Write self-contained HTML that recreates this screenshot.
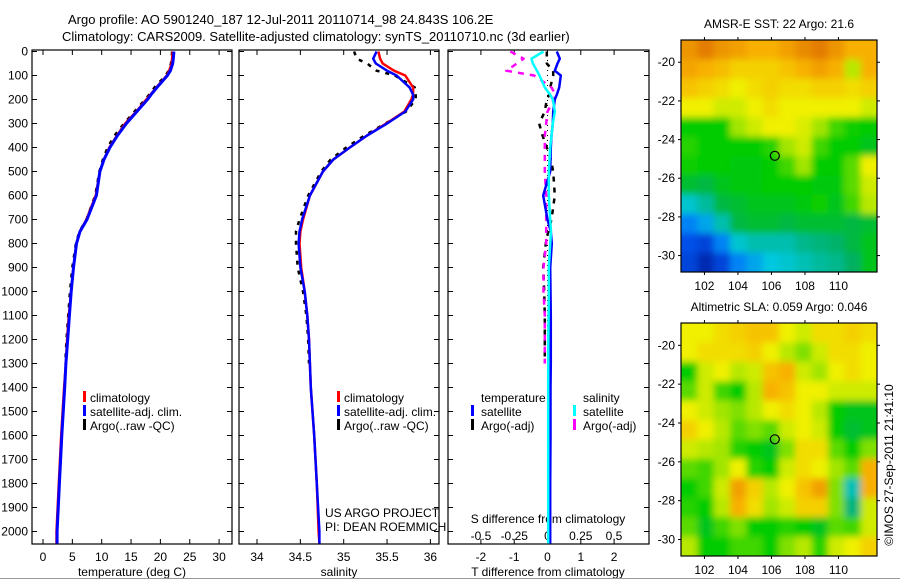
<!DOCTYPE html>
<html><head><meta charset="utf-8">
<style>
html,body{margin:0;padding:0;background:#fff;}
svg{display:block;font-family:"Liberation Sans",sans-serif;}
text{font-size:12px;fill:#000;}
</style></head>
<body>
<svg id="fig" width="900" height="580" viewBox="0 0 900 580" xmlns="http://www.w3.org/2000/svg">
<defs>
<clipPath id="clipMap1"><rect x="681" y="40" width="196" height="232"/></clipPath>
<clipPath id="clipMap2"><rect x="681" y="323" width="196" height="233"/></clipPath>
<filter id="blur" x="-5%" y="-5%" width="110%" height="110%"><feGaussianBlur stdDeviation="3.5"/></filter>
</defs>
<text x="68" y="24" style="font-size:13px">Argo profile: AO 5901240_187 12-Jul-2011 20110714_98 24.843S 106.2E</text>
<text x="62" y="41" style="font-size:13px">Climatology: CARS2009. Satellite-adjusted climatology: synTS_20110710.nc (3d earlier)</text>
<g id="g"></g>
<line x1="0" y1="578.5" x2="900" y2="578.5" stroke="#999" stroke-width="1"/>
</svg>
<script>
// ---------- data ----------
const depths = [0,30,50,80,100,150,180,200,250,300,350,400,450,500,600,700,750,800,900,1000,1100,1200,1300,1400,1600,1800,2000,2050];
const tempClim = [22.1,22.0,21.9,21.5,21.1,19.3,18.3,17.6,15.9,14.0,12.6,11.3,10.4,9.7,9.0,7.4,6.3,5.7,5.2,4.8,4.4,4.1,3.9,3.6,3.1,2.7,2.3,2.3];
const tempSat  = [22.3,22.2,22.1,21.7,21.2,19.4,18.4,17.8,16.0,14.2,12.7,11.4,10.4,9.7,9.1,7.5,6.3,5.7,5.2,4.8,4.5,4.2,3.9,3.7,3.2,2.8,2.4,2.4];
const tempArgo = [22.0,21.9,21.8,21.4,20.9,19.0,18.1,17.4,15.6,13.8,12.2,11.0,10.2,9.6,8.9,7.4,6.2,5.6,5.0,4.6,4.3,4.0,3.8];
const salClim  = [35.40,35.42,35.45,35.58,35.71,35.80,35.80,35.78,35.70,35.49,35.27,35.07,34.88,34.76,34.61,34.53,34.50,34.49,34.51,34.55,34.58,34.60,34.61,34.62,34.66,34.69,34.71,34.72];
const salSat   = [35.38,35.34,35.37,35.50,35.61,35.76,35.80,35.80,35.71,35.50,35.27,35.07,34.88,34.76,34.61,34.52,34.49,34.48,34.50,34.55,34.58,34.60,34.61,34.62,34.66,34.69,34.72,34.72];
const salArgo  = [35.12,35.15,35.27,35.38,35.59,35.82,35.83,35.83,35.72,35.48,35.24,35.03,34.85,34.74,34.59,34.49,34.45,34.45,34.47,34.53,34.57,34.59,34.60];
const tdiffSat  = [0.28,0.37,0.30,0.22,0.40,0.35,0.28,0.22,0.17,0.16,0.12,0.10,0.09,0.08,-0.13,0.0,0.10,0.13,0.08,0.09,0.10,0.10,0.10,0.09,0.09,0.08,0.08,0.08];
const tdiffArgo = [-0.02,-0.02,-0.02,0.17,0.17,0.08,0.05,-0.02,-0.08,-0.25,-0.15,-0.02,0.10,0.17,0.22,0.12,0.02,-0.05,-0.13,-0.10,-0.08,-0.08,-0.08];
const sdiffSat  = [-0.03,-0.12,-0.11,-0.08,-0.06,-0.02,0.02,0.04,0.056,0.04,0.03,0.02,0.015,0.01,0.01,0.02,0.026,0.02,0.01,0.01,0.008,0.006,0.005,0.005,0.005,0.005,0.005,0.005];
const sdiffArgo = [-0.28,-0.18,-0.23,-0.31,-0.10,0.03,0.06,0.05,0.0,-0.01,-0.02,-0.02,-0.02,-0.02,-0.01,-0.01,-0.01,-0.01,-0.03,-0.03,-0.02,-0.02,-0.02];
const depthTicks = [0,100,200,300,400,500,600,700,800,900,1000,1100,1200,1300,1400,1500,1600,1700,1800,1900,2000];
const tempTicks = [0,5,10,15,20,25,30];
const salTicks = [34,34.5,35,35.5,36];
const salTickLabels = ['34','34.5','35','35.5','36'];
const tdTicks = [-2,-1,0,1,2];
const sdTicks = [-0.5,-0.25,0,0.25,0.5];
const sdTickLabels = ['-0.5','-0.25','0','0.25','0.5'];
const lonTicks = [102,104,106,108,110];
const latTicks = [-20,-22,-24,-26,-28,-30];
const argoLon = 106.2, argoLat = -24.84;
const sstGrid = [
[0.90,0.95,0.90,0.88,0.85,0.85,0.88,0.92,0.95,0.90,0.85,0.85],
[0.87,0.85,0.83,0.80,0.80,0.80,0.82,0.85,0.88,0.85,0.70,0.85],
[0.82,0.80,0.78,0.75,0.78,0.80,0.78,0.78,0.80,0.80,0.78,0.80],
[0.75,0.75,0.72,0.72,0.75,0.78,0.75,0.75,0.75,0.75,0.75,0.72],
[0.55,0.55,0.55,0.68,0.72,0.75,0.75,0.73,0.68,0.60,0.56,0.55],
[0.58,0.55,0.55,0.55,0.55,0.58,0.68,0.72,0.60,0.55,0.55,0.52],
[0.56,0.55,0.55,0.54,0.54,0.55,0.60,0.68,0.55,0.55,0.62,0.75],
[0.50,0.48,0.52,0.54,0.54,0.55,0.55,0.55,0.54,0.54,0.62,0.72],
[0.32,0.38,0.48,0.50,0.52,0.52,0.52,0.54,0.56,0.52,0.60,0.70],
[0.20,0.25,0.36,0.48,0.50,0.50,0.48,0.50,0.50,0.50,0.48,0.50],
[0.12,0.10,0.20,0.32,0.36,0.36,0.36,0.40,0.42,0.44,0.48,0.52],
[0.10,0.05,0.10,0.20,0.25,0.30,0.32,0.35,0.38,0.40,0.45,0.52]];
const slaGrid = [
[0.75,0.75,0.78,0.80,0.82,0.82,0.75,0.72,0.78,0.78,0.80,0.78],
[0.75,0.78,0.78,0.78,0.80,0.75,0.70,0.65,0.72,0.78,0.78,0.75],
[0.55,0.72,0.75,0.70,0.72,0.82,0.85,0.72,0.68,0.75,0.78,0.75],
[0.62,0.72,0.60,0.55,0.70,0.85,0.82,0.75,0.75,0.72,0.72,0.72],
[0.75,0.72,0.68,0.65,0.70,0.75,0.78,0.75,0.70,0.55,0.52,0.52],
[0.80,0.75,0.70,0.62,0.65,0.62,0.72,0.75,0.72,0.55,0.50,0.52],
[0.72,0.70,0.68,0.58,0.55,0.52,0.65,0.78,0.78,0.62,0.55,0.65],
[0.62,0.60,0.68,0.75,0.58,0.55,0.72,0.78,0.75,0.68,0.62,0.85],
[0.55,0.60,0.72,0.88,0.80,0.70,0.75,0.82,0.88,0.65,0.35,0.85],
[0.58,0.55,0.70,0.85,0.78,0.68,0.72,0.80,0.80,0.65,0.42,0.72],
[0.62,0.52,0.60,0.65,0.55,0.55,0.58,0.55,0.52,0.62,0.60,0.72],
[0.70,0.55,0.55,0.60,0.60,0.55,0.65,0.70,0.58,0.72,0.75,0.80]];

// ---------- helpers ----------
const NS='http://www.w3.org/2000/svg';
const G=document.getElementById('g');
function mk(tag, attrs, parent){const e=document.createElementNS(NS,tag);for(const k in attrs)e.setAttribute(k,attrs[k]);(parent||G).appendChild(e);return e;}
const top0=50, bot0=544;
const yD = d => 51.5 + d*0.24;
const P1={l:32,r:232}, P2={l:239,r:439}, P3={l:448,r:649};
const xT = t => 43 + t*5.87;
const xS = s => 257 + (s-34)*86.7;
const xTD = v => 547.5 + v*33.3;
const xSD = v => 547.5 + v*133;

function frame(p,name){
  const r=mk('rect',{x:p.l,y:top0,width:p.r-p.l,height:bot0-top0,fill:'none',stroke:'#000','stroke-width':1.2});
  
  
  depthTicks.forEach(d=>{
    const t1=mk('line',{x1:p.l,x2:p.l+5,y1:yD(d),y2:yD(d),stroke:'#000'});
    
    
    const t2=mk('line',{x1:p.r-5,x2:p.r,y1:yD(d),y2:yD(d),stroke:'#000'});
    
    
  });
}
function xticks(vals,labels,fx,ly,name){
  vals.forEach((v,i)=>{
    const a=mk('line',{x1:fx(v),x2:fx(v),y1:top0,y2:top0+5,stroke:'#000'});
    
    
    const b=mk('line',{x1:fx(v),x2:fx(v),y1:bot0-5,y2:bot0,stroke:'#000'});
    
    
    if(ly){const t=mk('text',{x:fx(v),y:ly,'text-anchor':'middle'});t.textContent=labels[i];
    
    }
  });
}
function line(xs,ds,fx,color,w,dash,name){
  const pts=xs.map((v,i)=>fx(v).toFixed(1)+','+yD(ds[i]).toFixed(1)).join(' ');
  const a={points:pts,fill:'none',stroke:color,'stroke-width':w,'stroke-linejoin':'round'};
  if(dash)a['stroke-dasharray']=dash;
  const e=mk('polyline',a);
  
  
}
function txt(x,y,s,name,extra){const t=mk('text',Object.assign({x:x,y:y},extra||{}));t.textContent=s;
  
  return t;}
function legMark(x,y,color,name){const r=mk('rect',{x:x,y:y-10,width:3,height:11,fill:color});
  
  }

depthTicks.forEach(d=>txt(28,yD(d)+4,String(d),'depth-tick-label',{'text-anchor':'end'}));

// panel 1
frame(P1,'temperature-panel');
xticks(tempTicks,tempTicks.map(String),xT,561,'temperature-axis');
txt(132,576,'temperature (deg C)','temperature-axis-title',{'text-anchor':'middle'});
line(tempArgo,depths.slice(0,tempArgo.length),xT,'#000',2.5,'4,6','temp-argo-line');
line(tempClim,depths,xT,'#ff0000',2.5,null,'temp-climatology-line');
line(tempSat,depths,xT,'#0000ff',3,null,'temp-satellite-line');
legMark(83,401,'#ff0000','legend-climatology-mark');txt(90,402,'climatology','legend-climatology');
legMark(83,415,'#0000ff','legend-satellite-mark');txt(90,416,'satellite-adj. clim.','legend-satellite');
legMark(83,429,'#000','legend-argo-mark');txt(90,430,'Argo(..raw -QC)','legend-argo');

// panel 2
frame(P2,'salinity-panel');
xticks(salTicks,salTickLabels,xS,561,'salinity-axis');
txt(339,576,'salinity','salinity-axis-title',{'text-anchor':'middle'});
line(salArgo,depths.slice(0,salArgo.length),xS,'#000',2.5,'4,6','sal-argo-line');
line(salClim,depths,xS,'#ff0000',2.5,null,'sal-climatology-line');
line(salSat,depths,xS,'#0000ff',2.5,null,'sal-satellite-line');
legMark(337,401,'#ff0000','legend2-climatology-mark');txt(344,402,'climatology','legend2-climatology');
legMark(337,415,'#0000ff','legend2-satellite-mark');txt(344,416,'satellite-adj. clim.','legend2-satellite');
legMark(337,429,'#000','legend2-argo-mark');txt(344,430,'Argo(..raw -QC)','legend2-argo');
txt(325,517,'US ARGO PROJECT','credit-project');
txt(325,531,'PI: DEAN ROEMMICH','credit-pi');

// panel 3
const bg=mk('rect',{x:P3.l,y:top0,width:P3.r-P3.l,height:bot0-top0,fill:'#fff'});


frame(P3,'difference-panel');
xticks(tdTicks,tdTicks.map(String),xTD,561,'tdiff-axis');
sdTicks.forEach((v,i)=>txt(xSD(v),540,sdTickLabels[i],'sdiff-tick-label',{'text-anchor':'middle'}));
txt(548,523,'S difference from climatology','sdiff-axis-title',{'text-anchor':'middle'});
txt(548,576,'T difference from climatology','tdiff-axis-title',{'text-anchor':'middle'});
const zl=mk('line',{x1:xTD(0),x2:xTD(0),y1:top0,y2:bot0,stroke:'#000','stroke-dasharray':'1,4'});


line(tdiffArgo,depths.slice(0,tdiffArgo.length),xTD,'#000',2.5,'5,6','tdiff-argo-line');
line(sdiffArgo,depths.slice(0,sdiffArgo.length),xSD,'#ff00ff',2.5,'6,6','sdiff-argo-line');
line(tdiffSat,depths,xTD,'#0000ff',2.5,null,'tdiff-satellite-line');
line(sdiffSat,depths,xSD,'#00ffff',2.5,null,'sdiff-satellite-line');
txt(481,402,'temperature','legend3-temperature-header');
legMark(471,415,'#0000ff','legend3-tsat-mark');txt(481,416,'satellite','legend3-tsat');
legMark(471,429,'#000','legend3-targo-mark');txt(481,430,'Argo(-adj)','legend3-targo');
txt(583,402,'salinity','legend3-salinity-header');
legMark(573,415,'#00ffff','legend3-ssat-mark');txt(583,416,'satellite','legend3-ssat');
legMark(573,429,'#ff00ff','legend3-sargo-mark');txt(583,430,'Argo(-adj)','legend3-sargo');

// ---------- maps ----------
const stops=[[0,[0,16,140]],[0.15,[0,96,255]],[0.3,[0,200,224]],[0.45,[0,176,96]],[0.55,[0,204,0]],[0.65,[128,224,0]],[0.75,[240,240,0]],[0.85,[248,176,0]],[1,[216,96,0]]];
function cmap(v){for(let i=1;i<stops.length;i++){if(v<=stops[i][0]){const a=stops[i-1],b=stops[i],f=(v-a[0])/(b[0]-a[0]);
  const c=a[1].map((x,k)=>Math.round(x+(b[1][k]-x)*f));return 'rgb('+c.join(',')+')';}}return 'rgb(216,96,0)';}
function map(grid,box,clip,title,name){
  const lon0=100.6,lon1=112.3,lat0=-18.85,lat1=-30.85;
  const fx=lo=>box.l+(lo-lon0)/(lon1-lon0)*(box.r-box.l);
  const fy=la=>box.t+(la-lat0)/(lat1-lat0)*(box.b-box.t);
  const cg=mk('g',{'clip-path':'url(#'+clip+')'});
  
  
  mk('rect',{x:box.l,y:box.t,width:box.r-box.l,height:box.b-box.t,fill:cmap(0.6)},cg);
  const hg=mk('g',{filter:'url(#blur)'},cg);
  const nr=grid.length,nc=grid[0].length;
  const dlo=(lon1-lon0)/nc,dla=(lat1-lat0)/nr;
  for(let r=-1;r<=nr;r++)for(let c=-1;c<=nc;c++){
    const rr=Math.min(nr-1,Math.max(0,r)),cc=Math.min(nc-1,Math.max(0,c));
    const x=fx(lon0+c*dlo),y=fy(lat0+r*dla);
    const cell=mk('rect',{x:x.toFixed(1),y:y.toFixed(1),width:(fx(lon0+dlo)-box.l+0.6).toFixed(1),height:(fy(lat0+dla)-box.t+0.6).toFixed(1),fill:cmap(grid[rr][cc])},hg);
    
    
  }
  const fr=mk('rect',{x:box.l,y:box.t,width:box.r-box.l,height:box.b-box.t,fill:'none',stroke:'#000','stroke-width':1.2});
  
  
  lonTicks.forEach(lo=>{
    const a=mk('line',{x1:fx(lo),x2:fx(lo),y1:box.t-3,y2:box.t,stroke:'#000'});
    
    
    const b=mk('line',{x1:fx(lo),x2:fx(lo),y1:box.b,y2:box.b+3,stroke:'#000'});
    
    
    txt(fx(lo),box.b+18,String(lo),name+'-lon-label',{'text-anchor':'middle'});
  });
  latTicks.forEach(la=>{
    const a=mk('line',{x1:box.l-3,x2:box.l,y1:fy(la),y2:fy(la),stroke:'#000'});
    
    
    const b=mk('line',{x1:box.r,x2:box.r+3,y1:fy(la),y2:fy(la),stroke:'#000'});
    
    
    txt(box.l-6,fy(la)+4,String(la),name+'-lat-label',{'text-anchor':'end'});
  });
  const m=mk('circle',{cx:fx(argoLon),cy:fy(argoLat),r:4.5,fill:'none',stroke:'#000','stroke-width':1.2});
  
  
  txt((box.l+box.r)/2,box.t-12,title,name+'-title',{'text-anchor':'middle'});
}
map(sstGrid,{l:681,r:877,t:40,b:272},'clipMap1','AMSR-E SST: 22 Argo: 21.6','sst-map');
map(slaGrid,{l:681,r:877,t:323,b:556},'clipMap2','Altimetric SLA: 0.059 Argo: 0.046','sla-map');
txt(0,0,'©IMOS 27-Sep-2011 21:41:10','timestamp',{transform:'translate(893,465) rotate(-90)','text-anchor':'middle'});
</script>
</body></html>
